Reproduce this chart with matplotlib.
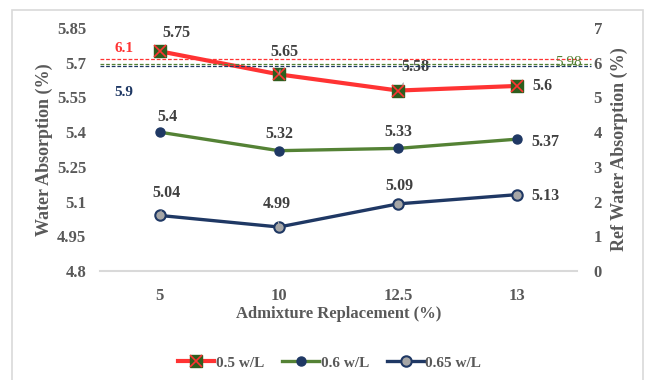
import matplotlib.pyplot as plt
from matplotlib.patches import Rectangle
from matplotlib.legend_handler import HandlerTuple

plt.rcParams['font.family'] = ['Liberation Serif', 'DejaVu Serif']
plt.rcParams['font.weight'] = 'bold'

# Data
categories = ['5', '10', '12.5', '13']
series_names = ['0.5 w/L', '0.6 w/L', '0.65 w/L']
wl_05 = [5.75, 5.65, 5.58, 5.6]
wl_06 = [5.4, 5.32, 5.33, 5.37]
wl_065 = [5.04, 4.99, 5.09, 5.13]
ref_values = [6.1, 5.98, 5.9]
left_ticks = [4.8, 4.95, 5.1, 5.25, 5.4, 5.55, 5.7, 5.85]
right_ticks = [0, 1, 2, 3, 4, 5, 6, 7]

red = '#FF3333'
green = '#548235'
navy = '#1F3864'
grey_txt = '#595959'
lbl_txt = '#404040'

fig = plt.figure(figsize=(6.46, 3.80), dpi=100)
ax = fig.add_axes([0.155, 0.287, 0.738, 0.639])
ax2 = ax.twinx()

x = list(range(len(categories)))

l1, = ax.plot(x, wl_05, color=red, lw=3.0, marker='s', ms=9, mfc='#2E5E1E',
              mec='#2E5E1E', zorder=5)
lx, = ax.plot(x, wl_05, ls='none', marker='x', ms=8, mec=red, mew=1.2, zorder=6)
l2, = ax.plot(x, wl_06, color=green, lw=2.4, marker='o', ms=6.5, mfc=navy,
              mec=navy, zorder=5)
l3, = ax.plot(x, wl_065, color=navy, lw=2.4, marker='o', ms=7.5, mfc='#A6A6A6',
              mec=navy, mew=1.5, zorder=5)

ax.set_xlim(-0.5, len(categories) - 0.5)
ax.set_ylim(4.8, 5.85)
ax.set_yticks(left_ticks)
ax.set_yticklabels([f'{t:g}' for t in left_ticks])
ax.set_xticks(x)
ax.set_xticklabels(categories)

ax2.set_ylim(0, 7)
ax2.set_yticks(right_ticks)

# reference dashed lines on the right axis
ref_colors = [red, green, navy]
for v, c in zip(ref_values, ref_colors):
    ax2.axhline(v, color=c, ls='--', lw=0.9, dashes=(3, 1.5), xmin=0, xmax=1.03,
                clip_on=False)
ax2.text(0.03, 0.9, '6.1', transform=ax.transAxes, color=red, fontsize=11)
ax2.text(0.03, 0.72, '5.9', transform=ax.transAxes, color=navy, fontsize=11)
ax2.text(0.955, 0.845, '5.98', transform=ax.transAxes, color=green, fontsize=11,
         fontweight='normal')

for a in (ax, ax2):
    for s in a.spines.values():
        s.set_visible(False)
    a.tick_params(length=0, labelsize=12, labelcolor=grey_txt)
ax.spines['bottom'].set_visible(True)
ax.spines['bottom'].set_color('#D9D9D9')
ax.spines['bottom'].set_linewidth(1.5)
ax.tick_params(axis='y', pad=10)
ax.tick_params(axis='x', pad=12)
ax2.tick_params(axis='y', pad=12)

ax.set_ylabel('Water Absorption (%)', fontsize=13, color=grey_txt, labelpad=3,
              fontweight='bold')
ax2.set_ylabel('Ref Water Absorption (%)', fontsize=13, color=grey_txt, labelpad=6,
               fontweight='bold')
ax.set_xlabel('Admixture Replacement (%)', fontsize=12, color=grey_txt, labelpad=2,
              fontweight='bold')

# data labels (offsets in pixels)
offsets = {
    0: [(17, 18), (6, 22), (17, 24), (25, 0)],
    1: [(8, 15), (0, 17), (0, 16), (28, -3)],
    2: [(7, 22), (-2, 23), (1, 18), (28, -1)],
}
leader = {0: [False, True, True, False], 1: [False] * 4, 2: [True, True, False, False]}
for si, ys in enumerate([wl_05, wl_06, wl_065]):
    for i, yv in enumerate(ys):
        dx, dy = offsets[si][i]
        kw = {}
        if leader[si][i]:
            kw['arrowprops'] = dict(arrowstyle='-', color='#A6A6A6', lw=0.8,
                                    shrinkA=5, shrinkB=5)
        ax.annotate(f'{yv:g}', (i, yv), xytext=(dx, dy), textcoords='offset pixels',
                    ha='center', va='center', fontsize=11.5, color=lbl_txt,
                    zorder=7, **kw)

leg = fig.legend([(l1, lx), l2, l3], series_names, loc='center',
                 bbox_to_anchor=(0.51, 0.045),
                 handler_map={tuple: HandlerTuple(ndivide=1)},
                 ncol=3, frameon=False, fontsize=11, handlelength=2.4,
                 handletextpad=0.1, columnspacing=1.2)
for t in leg.get_texts():
    t.set_color(grey_txt)

fig.patches.append(Rectangle((12 / 646, -0.05), 631 / 646, 1 - 10 / 380 + 0.05,
                             transform=fig.transFigure, fill=False,
                             edgecolor='#D9D9D9', lw=1.2))

fig.savefig('out.png', dpi=100)
